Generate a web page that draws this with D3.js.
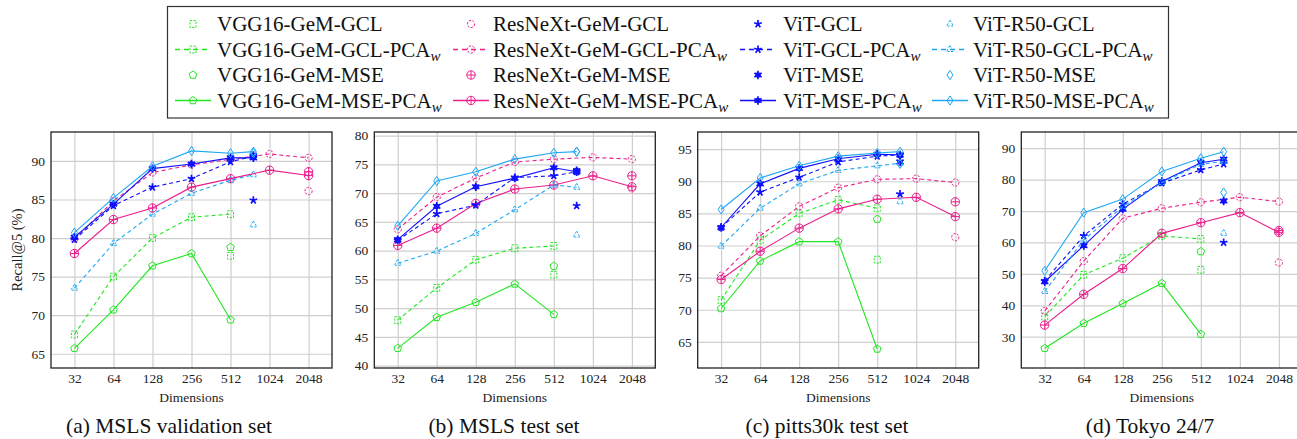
<!DOCTYPE html>
<html>
<head>
<meta charset="utf-8">
<script src="https://cdn.jsdelivr.net/npm/d3@7"></script>
<style>
body { margin: 0; background: #fff; }
svg { display: block; }
svg text { font-family: "Liberation Serif", "DejaVu Serif", "Tinos", "Times New Roman", serif; }
</style>
</head>
<body>
<svg id="chart" width="1297" height="439"></svg>
<script>
// dimensions per backbone
var dimsVGG = [32, 64, 128, 256, 512];
var dimsResNeXt = [32, 64, 128, 256, 512, 1024, 2048];
var dimsViT = [32, 64, 128, 256, 512, 768];
var dimTicks = [32, 64, 128, 256, 512, 1024, 2048];

// one row per panel: (a) MSLS val, (b) MSLS test, (c) pitts30k, (d) Tokyo 24/7
var vggGclPca = [[67.5, 75.0, 80.0, 82.7, 83.1], [47.9, 53.5, 58.4, 60.4, 60.8], [71.5, 80.8, 85.0, 87.1, 85.8], [36.4, 49.7, 55.0, 62.1, 61.1]];
var vggMsePca = [[65.7, 70.7, 76.4, 78.0, 69.4], [43.0, 48.4, 51.0, 54.2, 48.9], [70.2, 77.6, 80.6, 80.6, 63.9], [26.3, 34.3, 40.6, 47.0, 30.8]];
var resGclPca = [[79.9, 84.8, 88.5, 89.5, 90.2, 90.9, 90.4], [63.7, 69.3, 72.6, 75.4, 75.9, 76.2, 75.9], [75.3, 81.5, 86.1, 89.0, 90.3, 90.4, 89.8], [38.2, 54.1, 67.7, 70.9, 72.8, 74.4, 73.0]];
var resMsePca = [[78.0, 82.4, 83.9, 86.6, 87.7, 88.8, 88.1], [60.9, 63.9, 68.2, 70.7, 71.4, 73.0, 71.1], [74.7, 79.1, 82.7, 85.7, 87.2, 87.5, 84.5], [33.7, 43.5, 51.7, 62.9, 66.3, 69.5, 63.2]];
var vitGclPca = [[79.8, 84.2, 86.6, 87.7, 89.9, 90.6], [61.8, 66.4, 67.9, 72.7, 73.0, 73.7], [82.8, 88.3, 90.6, 93.0, 93.9, 94.1], [47.8, 62.1, 72.2, 78.9, 83.1, 85.0]];
var vitMsePca = [[80.1, 84.4, 89.0, 89.6, 90.4, 90.4], [61.9, 67.7, 71.1, 72.6, 74.4, 73.7], [82.8, 89.6, 92.0, 93.5, 94.2, 94.1], [47.5, 59.0, 70.6, 79.4, 85.4, 86.5]];
var r50GclPca = [[73.5, 79.3, 83.1, 85.8, 87.5, 88.2], [57.8, 59.9, 63.0, 67.1, 71.4, 71.0], [79.9, 85.8, 89.6, 91.7, 92.4, 92.8], [44.4, 60.8, 71.4, 79.1, 84.9, 85.8]];
var r50MsePca = [[80.7, 85.2, 89.3, 91.3, 91.0, 91.2], [64.3, 72.1, 73.7, 75.9, 77.0, 77.2], [85.6, 90.5, 92.4, 93.9, 94.4, 94.6], [51.0, 69.5, 73.8, 82.6, 86.8, 88.9]];

// full-dimension results (single point per panel)
var vggGcl = [77.7, 55.8, 77.8, 51.3];
var vggMse = [78.8, 57.3, 84.1, 57.1];
var resGcl = [86.1, 70.8, 81.3, 53.6];
var resMse = [88.6, 73.0, 86.8, 63.8];
var vitGcl = [84.9, 67.8, 88.0, 60.0];
var vitMse = [90.7, 73.9, 93.0, 73.2];
var r50Gcl = [81.7, 62.7, 86.8, 62.9];
var r50Mse = [91.0, 77.2, 92.7, 75.9];

var panelTitles = ["(a) MSLS validation set", "(b) MSLS test set", "(c) pitts30k test set", "(d) Tokyo 24/7"];
var yDomains = [[63.15, 93.75], [39.58, 80.62], [60.94, 97.66], [20.04, 95.16]];
var yTicks = [[65, 70, 75, 80, 85, 90], [40, 45, 50, 55, 60, 65, 70, 75, 80], [65, 70, 75, 80, 85, 90, 95], [30, 40, 50, 60, 70, 80, 90]];

var green = "#22e622", pink = "#ea1e8c", blue = "#1010ff", light = "#1ea8f5";

// series in legend order (column by column)
var series = [
    {name: "VGG16-GeM-GCL", color: green, mark: "square", dashed: true, line: false, dims: [512], vals: vggGcl.map(v => [v])},
    {name: "VGG16-GeM-GCL-PCA", sub: true, color: green, mark: "square", dashed: true, line: true, dims: dimsVGG, vals: vggGclPca},
    {name: "VGG16-GeM-MSE", color: green, mark: "pentagon", dashed: false, line: false, dims: [512], vals: vggMse.map(v => [v])},
    {name: "VGG16-GeM-MSE-PCA", sub: true, color: green, mark: "pentagon", dashed: false, line: true, dims: dimsVGG, vals: vggMsePca},
    {name: "ResNeXt-GeM-GCL", color: pink, mark: "circle", dashed: true, line: false, dims: [2048], vals: resGcl.map(v => [v])},
    {name: "ResNeXt-GeM-GCL-PCA", sub: true, color: pink, mark: "circle", dashed: true, line: true, dims: dimsResNeXt, vals: resGclPca},
    {name: "ResNeXt-GeM-MSE", color: pink, mark: "oplus", dashed: false, line: false, dims: [2048], vals: resMse.map(v => [v])},
    {name: "ResNeXt-GeM-MSE-PCA", sub: true, color: pink, mark: "oplus", dashed: false, line: true, dims: dimsResNeXt, vals: resMsePca},
    {name: "ViT-GCL", color: blue, mark: "star", dashed: true, line: false, dims: [768], vals: vitGcl.map(v => [v])},
    {name: "ViT-GCL-PCA", sub: true, color: blue, mark: "star", dashed: true, line: true, dims: dimsViT, vals: vitGclPca},
    {name: "ViT-MSE", color: blue, mark: "asterisk", dashed: false, line: false, dims: [768], vals: vitMse.map(v => [v])},
    {name: "ViT-MSE-PCA", sub: true, color: blue, mark: "asterisk", dashed: false, line: true, dims: dimsViT, vals: vitMsePca},
    {name: "ViT-R50-GCL", color: light, mark: "triangle", dashed: true, line: false, dims: [768], vals: r50Gcl.map(v => [v])},
    {name: "ViT-R50-GCL-PCA", sub: true, color: light, mark: "triangle", dashed: true, line: true, dims: dimsViT, vals: r50GclPca},
    {name: "ViT-R50-MSE", color: light, mark: "diamond", dashed: false, line: false, dims: [768], vals: r50Mse.map(v => [v])},
    {name: "ViT-R50-MSE-PCA", sub: true, color: light, mark: "diamond", dashed: false, line: true, dims: dimsViT, vals: r50MsePca}
];

var svg = d3.select("#chart");

var dims = {
    lefts: [51, 374.3, 697.7, 1021.3],
    width: 281,
    top: 132,
    bottom: 368,
    captionX: [169, 504, 827, 1150]
};
dims.height = dims.bottom - dims.top;

function poly(n, r, start) {
    var pts = d3.range(n).map(k => {
        var a = (start + k * 360 / n) * Math.PI / 180;
        return [r * Math.cos(a), r * Math.sin(a)];
    });
    return "M" + pts.map(p => p.join(",")).join("L") + "Z";
}

function arms(n, r, start) {
    return d3.range(n).map(k => {
        var a = (start + k * 360 / n) * Math.PI / 180;
        return "M0,0L" + (r * Math.cos(a)) + "," + (r * Math.sin(a));
    }).join("");
}

function circlePath(r) {
    return "M" + r + ",0A" + r + "," + r + " 0 1,1 " + (-r) + ",0A" + r + "," + r + " 0 1,1 " + r + ",0Z";
}

function markPath(type) {
    switch (type) {
        case "square": return "M-3,-3.4H3V3.4H-3Z";
        case "pentagon": return poly(5, 4, -90);
        case "circle": return circlePath(3.6);
        case "oplus": return circlePath(4.2) + "M-4.2,0H4.2M0,-4.2V4.2";
        case "star": return arms(5, 4, -90);
        case "asterisk": return arms(6, 4.2, -90);
        case "triangle": return poly(3, 4, -90);
        case "diamond": return "M0,-4.6L3,0L0,4.6L-3,0Z";
    }
}

function drawMark(g, s, cx, cy) {
    var m = g.append("g").attr("transform", `translate(${cx},${cy})`);
    if (s.mark === "asterisk") {
        m.append("circle").attr("r", 2.8).attr("fill", s.color);
    }
    if (s.mark === "star") {
        m.append("circle").attr("r", 1.4).attr("fill", s.color);
    }
    m.append("path")
        .attr("d", markPath(s.mark))
        .attr("fill", "none")
        .attr("stroke", s.color)
        .attr("stroke-width", s.mark === "asterisk" || s.mark === "star" ? 1.7 : 1)
        .attr("stroke-dasharray", s.dashed && s.mark !== "star" ? "2.2,1.4" : null);
}

// panels
panelTitles.forEach(function (title, p) {
    var g = svg.append("g").attr("transform", `translate(${dims.lefts[p]},${dims.top})`);

    var xScale = d3.scaleLog().base(2)
        .domain([Math.pow(2, 4.4), Math.pow(2, 11.6)])
        .range([0, dims.width]);
    var yScale = d3.scaleLinear()
        .domain(yDomains[p])
        .range([dims.height, 0]);

    // grid
    g.append("g")
        .attr("transform", `translate(0,${dims.height})`)
        .call(d3.axisBottom(xScale).tickValues(dimTicks).tickSize(-dims.height).tickFormat(""))
        .call(a => a.select(".domain").remove())
        .call(a => a.selectAll("line").attr("stroke", "#cfcfcf").attr("stroke-width", 1.2));
    g.append("g")
        .call(d3.axisLeft(yScale).tickValues(yTicks[p]).tickSize(-dims.width).tickFormat(""))
        .call(a => a.select(".domain").remove())
        .call(a => a.selectAll("line").attr("stroke", "#cfcfcf").attr("stroke-width", 1.2));

    // tick labels
    g.append("g")
        .attr("transform", `translate(0,${dims.height})`)
        .call(d3.axisBottom(xScale).tickValues(dimTicks).tickSize(0).tickPadding(5).tickFormat(d3.format("d")))
        .call(a => a.select(".domain").remove())
        .call(a => a.attr("font-family", null))
        .selectAll("text")
        .attr("font-size", 13.5)
        .attr("fill", "#222");
    g.append("g")
        .call(d3.axisLeft(yScale).tickValues(yTicks[p]).tickSize(0).tickPadding(6))
        .call(a => a.select(".domain").remove())
        .call(a => a.attr("font-family", null))
        .selectAll("text")
        .attr("font-size", 13.5)
        .attr("fill", "#222");

    // series
    series.forEach(function (s) {
        var pts = s.dims.map((d, i) => [xScale(d), yScale(s.vals[p][i])]);
        if (s.line) {
            g.append("path")
                .attr("d", d3.line()(pts))
                .attr("fill", "none")
                .attr("stroke", s.color)
                .attr("stroke-width", 1.1)
                .attr("stroke-dasharray", s.dashed ? "4,3" : null);
        }
        pts.forEach(pt => drawMark(g, s, pt[0], pt[1]));
    });

    // frame
    g.append("rect")
        .attr("width", dims.width)
        .attr("height", dims.height)
        .attr("fill", "none")
        .attr("stroke", "#222")
        .attr("stroke-width", 1.3);

    g.append("text")
        .attr("x", dims.width / 2)
        .attr("y", dims.height + 34)
        .attr("text-anchor", "middle")
        .attr("font-size", 13.5)
        .attr("fill", "#222")
        .text("Dimensions");

    svg.append("text")
        .attr("x", dims.captionX[p])
        .attr("y", 433)
        .attr("text-anchor", "middle")
        .attr("font-size", 21.5)
        .attr("fill", "#111")
        .text(title);
});

svg.append("text")
    .attr("transform", `translate(22,${dims.top + dims.height / 2}) rotate(-90)`)
    .attr("text-anchor", "middle")
    .attr("font-size", 14.5)
    .attr("fill", "#222")
    .text("Recall@5 (%)");

// legend
var legend = svg.append("g");
legend.append("rect")
    .attr("x", 167.5).attr("y", 6.5)
    .attr("width", 1001).attr("height", 111.5)
    .attr("fill", "#fff")
    .attr("stroke", "#333")
    .attr("stroke-width", 1.2);

var legendCols = [193, 471, 758, 950];
var legendTextX = [217, 493, 783, 973];
var legendRows = [24, 49.5, 75, 100.5];

series.forEach(function (s, i) {
    var c = Math.floor(i / 4), r = i % 4;
    var mx = legendCols[c], my = legendRows[r];
    if (s.line) {
        legend.append("line")
            .attr("x1", mx - 18).attr("x2", mx + 18)
            .attr("y1", my).attr("y2", my)
            .attr("stroke", s.color)
            .attr("stroke-width", 1.3)
            .attr("stroke-dasharray", s.dashed ? "5,4" : null);
    }
    drawMark(legend, s, mx, my);
    var t = legend.append("text")
        .attr("x", legendTextX[c])
        .attr("y", my + 7)
        .attr("font-size", 21)
        .attr("fill", "#111");
    t.append("tspan").text(s.name);
    if (s.sub) {
        t.append("tspan").attr("dy", 4).attr("font-size", 15).attr("font-style", "italic").text("w");
    }
});
</script>
</body>
</html>
